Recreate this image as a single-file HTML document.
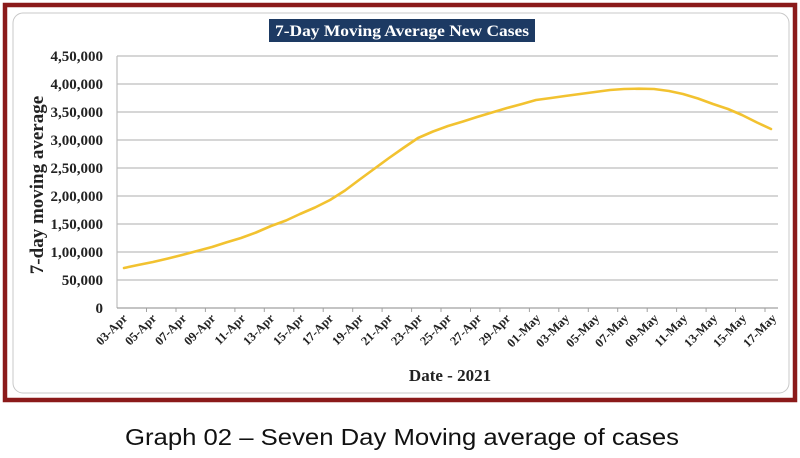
<!DOCTYPE html>
<html><head><meta charset="utf-8"><style>
html,body{margin:0;padding:0;background:#fff;width:800px;height:458px;overflow:hidden}
</style></head><body>
<svg width="800" height="458" viewBox="0 0 800 458" xmlns="http://www.w3.org/2000/svg">
<rect x="5" y="5" width="790" height="395" fill="#fff" stroke="#8b1a1a" stroke-width="4.5"/>
<rect x="13" y="13" width="776" height="380" rx="10" fill="#fff" stroke="#c8c8c8" stroke-width="1"/>
<rect x="269" y="19" width="266" height="23" fill="#1d3a63"/>
<text x="402" y="36" text-anchor="middle" font-family="Liberation Serif, serif" font-weight="bold" font-size="16" fill="#fff" textLength="254" lengthAdjust="spacingAndGlyphs">7-Day Moving Average New Cases</text>
<g stroke="#bdbdbd" stroke-width="1.2">
<line x1="117" y1="56" x2="778" y2="56"/><line x1="117" y1="84" x2="778" y2="84"/>
<line x1="117" y1="112" x2="778" y2="112"/><line x1="117" y1="140" x2="778" y2="140"/>
<line x1="117" y1="168" x2="778" y2="168"/><line x1="117" y1="196" x2="778" y2="196"/>
<line x1="117" y1="224" x2="778" y2="224"/><line x1="117" y1="252" x2="778" y2="252"/>
<line x1="117" y1="280" x2="778" y2="280"/>
<line x1="117" y1="56" x2="117" y2="308"/>
</g>
<line x1="117" y1="308" x2="778" y2="308" stroke="#a0a0a0" stroke-width="1.2"/>
<g font-family="Liberation Serif, serif" font-weight="bold" font-size="15" fill="#222" text-anchor="end">
<text x="103" y="61">4,50,000</text><text x="103" y="89">4,00,000</text>
<text x="103" y="117">3,50,000</text><text x="103" y="145">3,00,000</text>
<text x="103" y="173">2,50,000</text><text x="103" y="201">2,00,000</text>
<text x="103" y="229">1,50,000</text><text x="103" y="257">1,00,000</text>
<text x="103" y="285">50,000</text><text x="103" y="313">0</text>
</g>
<text transform="translate(43,185) rotate(-90)" text-anchor="middle" font-family="Liberation Serif, serif" font-weight="bold" font-size="19" fill="#222">7-day moving average</text>
<g font-family="Liberation Serif, serif" font-weight="bold" font-size="12.5" fill="#222" text-anchor="end">
<text transform="translate(128,319) rotate(-45)">03-Apr</text>
<text transform="translate(157,319) rotate(-45)">05-Apr</text>
<text transform="translate(187,319) rotate(-45)">07-Apr</text>
<text transform="translate(216,319) rotate(-45)">09-Apr</text>
<text transform="translate(246,319) rotate(-45)">11-Apr</text>
<text transform="translate(275,319) rotate(-45)">13-Apr</text>
<text transform="translate(305,319) rotate(-45)">15-Apr</text>
<text transform="translate(334,319) rotate(-45)">17-Apr</text>
<text transform="translate(364,319) rotate(-45)">19-Apr</text>
<text transform="translate(393,319) rotate(-45)">21-Apr</text>
<text transform="translate(423,319) rotate(-45)">23-Apr</text>
<text transform="translate(452,319) rotate(-45)">25-Apr</text>
<text transform="translate(482,319) rotate(-45)">27-Apr</text>
<text transform="translate(511,319) rotate(-45)">29-Apr</text>
<text transform="translate(541,319) rotate(-45)">01-May</text>
<text transform="translate(570,319) rotate(-45)">03-May</text>
<text transform="translate(600,319) rotate(-45)">05-May</text>
<text transform="translate(629,319) rotate(-45)">07-May</text>
<text transform="translate(659,319) rotate(-45)">09-May</text>
<text transform="translate(688,319) rotate(-45)">11-May</text>
<text transform="translate(718,319) rotate(-45)">13-May</text>
<text transform="translate(747,319) rotate(-45)">15-May</text>
<text transform="translate(777,319) rotate(-45)">17-May</text>
</g>
<g stroke="#a0a0a0" stroke-width="1">
<line x1="146.5" y1="308" x2="146.5" y2="312"/><line x1="176" y1="308" x2="176" y2="312"/>
<line x1="205.4" y1="308" x2="205.4" y2="312"/><line x1="234.9" y1="308" x2="234.9" y2="312"/>
<line x1="264.3" y1="308" x2="264.3" y2="312"/><line x1="293.8" y1="308" x2="293.8" y2="312"/>
<line x1="323.2" y1="308" x2="323.2" y2="312"/><line x1="352.7" y1="308" x2="352.7" y2="312"/>
<line x1="382.1" y1="308" x2="382.1" y2="312"/><line x1="411.6" y1="308" x2="411.6" y2="312"/>
<line x1="441" y1="308" x2="441" y2="312"/><line x1="470.5" y1="308" x2="470.5" y2="312"/>
<line x1="499.9" y1="308" x2="499.9" y2="312"/><line x1="529.4" y1="308" x2="529.4" y2="312"/>
<line x1="558.8" y1="308" x2="558.8" y2="312"/><line x1="588.3" y1="308" x2="588.3" y2="312"/>
<line x1="617.7" y1="308" x2="617.7" y2="312"/><line x1="647.2" y1="308" x2="647.2" y2="312"/>
<line x1="676.6" y1="308" x2="676.6" y2="312"/><line x1="706.1" y1="308" x2="706.1" y2="312"/>
<line x1="735.5" y1="308" x2="735.5" y2="312"/><line x1="765" y1="308" x2="765" y2="312"/>
</g>
<polyline fill="none" stroke="#f2c230" stroke-width="2.6" stroke-linejoin="round" stroke-linecap="round"
points="124,268 138,265 153,262 168,258.5 182,255 197,251 212,247 226,242.5 241,238 256,232.5 271,226 286,220.5 300,214 315,207.5 330,200 345,190.5 359,180 374,169 389,158 404,147.5 418,138 433,131.5 448,126 463,121.5 477,117 492,112.5 507,108 522,104 536,100 551,98 565,96 580,94 595,92 610,90 624,89 639,88.7 654,89 669,91 683,94 698,98.5 713,104 728,109 742,115 757,122.5 771,129"/>
<text x="450" y="381" text-anchor="middle" font-family="Liberation Serif, serif" font-weight="bold" font-size="17" fill="#222">Date - 2021</text>
<text x="402" y="445" text-anchor="middle" font-family="Liberation Sans, Arial, sans-serif" font-size="23" fill="#111" textLength="554" lengthAdjust="spacingAndGlyphs">Graph 02 – Seven Day Moving average of cases</text>
</svg>
</body></html>
